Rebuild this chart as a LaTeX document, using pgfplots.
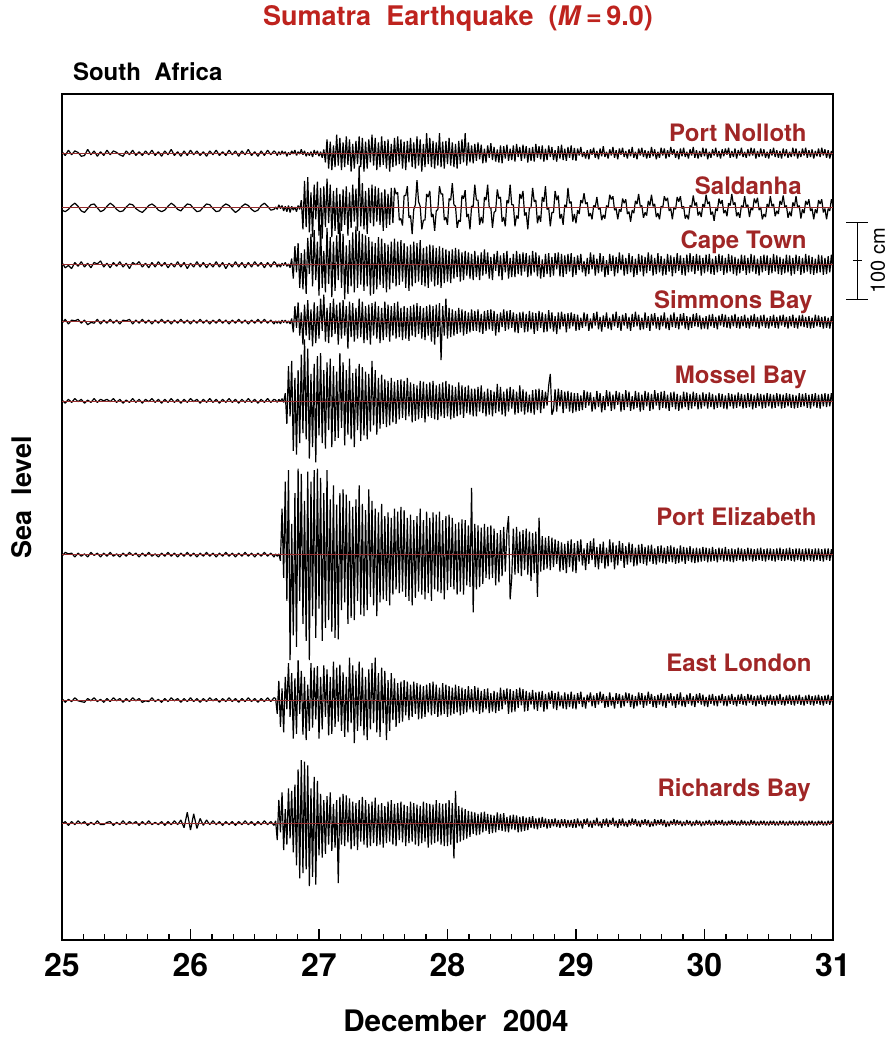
\documentclass[border=0pt]{standalone}
\usepackage{pgfplots}
\pgfplotsset{compat=1.18}
\usepackage{pgfplotstable}
\usepackage{fontspec}
\setmainfont{TeX Gyre Heros}

\definecolor{stationred}{RGB}{160,38,38}
\definecolor{titlered}{RGB}{190,35,30}
\definecolor{zeroline}{RGB}{150,45,45}

\tikzset{
  trace/.style={black, line width=0.6pt, line join=bevel},
  zero/.style={zeroline, line width=0.35pt},
  station/.style={anchor=east, inner sep=0pt, text=stationred, font=\fontsize{12}{12}\selectfont\bfseries},
}

% De-tided sea level (cm) at eight South African gauges, 25-31 Dec 2004
% (sampling refined once the tsunami arrives)
\pgfplotstableread{
t pn sa ct sb mb pe el rb
25.000 2 -3 3 -2 1 -2 2 -1
25.025 -3 -5 -4 3 -3 3 -3 2
25.050 4 -2 -1 -3 2 1 1 -3
25.075 -2 3 -5 2 -2 2 -2 2
25.100 3 6 3 1 3 -3 3 -2
25.125 1 2 -2 3 -1 2 -1 3
25.150 -4 -4 4 -2 2 -2 -2 -1
25.175 -3 -6 -3 2 -3 1 -3 2
25.200 5 -1 2 -4 1 -3 2 -3
25.225 -2 4 -4 -1 -2 3 -1 1
25.250 3 5 3 -2 3 -1 3 -2
25.275 -4 0 1 3 -2 2 -2 3
25.300 2 -5 5 -3 2 -3 1 -2
25.325 -3 -3 -3 2 0 2 -3 -2
25.350 4 2 2 -2 2 -2 2 1
25.375 -2 6 -4 3 -1 3 -2 2
25.400 3 3 3 -2 3 -2 3 -3
25.425 1 -2 -2 2 -2 1 -1 1
25.450 -2 -5 4 -3 2 -3 2 -2
25.475 -4 -4 -3 2 -3 2 -3 3
25.500 3 1 2 1 1 -2 2 -2
25.525 -2 5 -5 3 -2 3 -2 2
25.550 4 4 3 -3 3 -1 3 -1
25.575 -3 -1 0 2 -2 2 -1 2
25.600 2 -4 4 -2 2 -3 2 -3
25.625 -3 -6 -3 3 -3 2 -3 2
25.650 3 -2 2 -2 2 -2 -1 -2
25.675 -2 3 -4 2 -1 3 -2 3
25.700 4 5 3 -3 3 -2 3 -2
25.725 -3 2 -3 2 -2 1 -2 1
25.750 2 -3 4 -2 2 -3 1 -2
25.775 -4 -5 -2 3 -3 2 -3 2
25.800 3 -3 3 -2 2 -2 2 -3
25.825 -2 2 -4 2 -2 3 -2 2
25.850 5 6 2 -3 3 -2 3 -2
25.875 -3 3 -3 2 -2 2 -1 3
25.900 2 -2 4 -2 2 -3 2 -2
25.925 -4 -4 -3 3 -3 2 -3 4
25.950 3 1 3 -2 2 -2 2 -6
25.975 -3 5 -5 2 -2 3 -2 14
26.000 4 4 2 -3 3 -2 3 -9
26.025 -2 -1 -3 2 -1 2 -2 12
26.050 3 -5 4 -2 2 -3 2 -7
26.075 -3 -4 -3 3 -3 2 -3 6
26.100 2 1 3 -2 2 -2 2 -3
26.125 -4 5 -4 2 -2 3 -2 4
26.150 3 4 2 -3 3 -2 3 -2
26.175 -2 -1 -3 2 -2 2 -1 3
26.200 4 -5 4 -2 2 -3 2 -2
26.225 -3 -4 -3 3 -3 2 -3 2
26.250 2 2 3 -2 2 -2 2 -3
26.275 -3 5 -5 2 -2 3 -2 2
26.300 4 3 2 -3 3 -2 3 -2
26.325 -2 -2 -3 2 -2 2 -2 2
26.350 3 -6 4 -2 2 -3 2 -3
26.375 -4 -3 -3 3 -3 2 -3 2
26.400 3 2 3 -2 2 -2 2 -2
26.425 -2 5 -4 2 -2 3 -2 3
26.450 5 3 3 -3 3 -2 3 -2
26.475 -3 -2 -3 2 -2 2 -2 2
26.500 2 -5 4 -2 2 -3 2 -3
26.525 -4 -3 -2 3 -3 2 -3 2
26.550 3 3 3 -2 2 -2 2 -2
26.575 -3 6 -4 3 -2 3 -2 3
26.600 4 2 3 -2 3 -2 3 -2
26.625 -2 -3 -3 2 -2 2 -2 2
26.650 3 -2 4 -3 2 -3 3 -3
26.6625 1 1 2 1 1 1 2 3
26.6750 -3 -2 -3 -2 -2 -2 -18 -22
26.6875 2 4 1 1 2 1 25 30
26.7000 -2 -1 -3 -3 -1 -8 -35 -12
26.7125 3 3 2 2 3 60 15 40
26.7250 -1 -4 -1 -1 -2 -30 -42 -35
26.7375 2 2 3 2 10 95 30 18
26.7500 -4 -5 -2 -2 -30 -60 -12 -28
26.7625 1 3 1 1 45 110 48 45
26.7750 -2 -6 -4 -3 -20 -137 -22 -20
26.7875 3 2 8 4 52 40 35 42
26.8000 -1 -3 -18 -14 -65 -105 -50 -38
26.8125 4 1 24 20 30 80 28 50
26.8250 -3 -5 -10 -8 -70 -120 -44 -55
26.8375 2 3 28 25 40 112 52 70
26.8500 -1 -2 -30 -18 -55 -60 -18 -72
26.8625 5 10 15 12 60 105 38 82
26.8750 -2 -28 -32 -30 -42 -90 -45 -65
26.8875 3 35 20 22 80 70 30 80
26.9000 -4 -25 -38 -18 -50 -112 -52 -60
26.9125 1 40 35 28 68 108 20 75
26.9250 -3 -32 -12 -24 -75 -137 -40 -82
26.9375 2 20 40 16 35 95 48 45
26.9500 -5 -38 -28 -32 -60 -80 -36 -70
26.9625 4 30 45 25 48 110 42 60
26.9750 -2 -15 -20 -28 -80 -108 -25 -80
26.9875 3 34 30 20 58 112 44 55
27.0000 -4 -36 -40 -22 -45 -70 -50 -42
27.0125 2 26 52 30 62 100 30 38
27.0250 -6 -40 -30 -12 -55 -112 -38 -45
27.0375 5 28 18 35 40 80 45 30
27.0500 -12 -25 -36 -26 -62 -95 -22 -40
27.0625 18 38 48 18 50 110 40 35
27.0750 -20 -20 -25 -28 -38 -85 -46 -28
27.0875 15 30 36 24 55 72 30 40
27.1000 -22 -38 -42 -20 -60 -100 -44 -36
27.1125 10 22 30 30 45 90 50 25
27.1250 -18 -30 -34 -16 -52 -108 -35 -32
27.1375 24 26 38 22 38 65 42 30
27.1500 -16 -34 -20 -30 -48 -110 -28 -78
27.1625 20 18 55 25 62 80 46 34
27.1750 -22 -30 -30 -22 -35 -72 -40 -28
27.1875 14 24 40 28 50 85 36 38
27.2000 -18 -22 -45 -18 -58 -62 -48 -30
27.2125 22 28 25 20 40 78 30 36
27.2250 -15 -36 -38 -35 -44 -90 -42 -25
27.2375 18 20 32 26 55 70 55 32
27.2500 -24 -26 -28 -20 -50 -82 -30 -34
27.2625 12 30 42 24 36 62 45 28
27.2750 -20 -18 -36 -26 -60 -85 -56 -30
27.2875 16 25 50 18 42 72 38 26
27.3000 -14 -30 -30 -22 -38 -60 -40 -35
27.3125 22 55 44 30 48 90 50 30
27.3250 -18 -24 -26 -20 -52 -78 -34 -24
27.3375 20 32 40 26 44 66 42 34
27.3500 -24 -28 -34 -28 -45 -80 -46 -28
27.3625 15 22 38 20 38 58 30 30
27.3750 -20 -34 -28 -24 -50 -72 -52 -32
27.3875 18 26 36 22 35 85 40 25
27.4000 -12 -20 -40 -30 -40 -55 -38 -30
27.4125 24 30 30 24 52 70 48 28
27.4250 -16 -24 -38 -18 -32 -66 -30 -26
27.4375 20 28 28 26 40 60 55 33
27.4500 -22 -18 -32 -22 -44 -80 -42 -30
27.4625 14 26 36 20 30 55 35 24
27.4750 -18 -22 -26 -28 -36 -62 -48 -28
27.4875 22 20 34 18 34 66 42 26
27.5000 -15 -30 -30 -24 -30 -58 -30 -32
27.5125 16 24 28 26 28 50 38 22
27.5250 -20 -26 -36 -20 -34 -60 -52 -26
27.5375 18 18 26 22 26 55 26 28
27.5500 -24 -22 -32 -26 -32 -66 -40 -24
27.5625 12 26 30 20 30 48 35 30
27.5750 -18 -20 -24 -18 -28 -52 -26 -28
27.5875 20 26 34 24 25 60 28 25
27.6000 -16 18 -28 -22 -30 -45 -35 -30
27.6125 22 20 30 26 27 56 22 26
27.6250 -14 -16 -26 -20 -24 -50 -30 -22
27.6375 18 -14 32 18 28 62 24 28
27.6500 -20 -23 -22 -24 -22 -48 -28 -25
27.6625 15 16 28 20 26 58 26 24
27.6750 -22 16 -30 -22 -25 -55 -20 -30
27.6875 16 28 24 18 30 48 24 22
27.7000 -12 -13 -34 -25 -20 -60 -26 -26
27.7125 20 -10 26 20 24 52 20 28
27.7250 -18 -34 -28 -18 -28 -66 -22 -24
27.7375 14 -2 30 22 22 45 24 26
27.7500 -20 4 -24 -20 -26 -56 -18 -28
27.7625 22 36 28 24 20 50 22 24
27.7750 -16 8 -22 -16 -24 -48 -25 -30
27.7875 18 2 32 20 26 60 20 22
27.8000 -24 -28 -26 -22 -22 -52 -24 -26
27.8125 12 -16 22 18 25 45 18 28
27.8250 -18 -16 -28 -24 -28 -58 -22 -24
27.8375 26 18 24 20 22 56 20 26
27.8500 -14 14 -30 -18 -20 -50 -16 -32
27.8625 20 22 26 22 24 48 22 25
27.8750 -18 -12 -22 -26 -22 -60 -20 -28
27.8875 16 -8 25 20 26 55 24 24
27.9000 -20 -30 -28 -30 -24 -45 -18 -26
27.9125 14 -4 22 22 20 52 20 30
27.9250 -16 -2 -26 -20 -25 -48 -22 -24
27.9375 26 28 24 24 22 56 16 26
27.9500 -18 18 -30 -50 -20 -50 -20 -28
27.9625 15 18 22 20 24 45 22 25
27.9750 -20 -16 -24 -18 -22 -58 -18 -30
27.9875 16 -12 20 30 26 50 20 26
28.0000 -14 -22 -22 -22 -20 -46 -22 -30
28.0125 20 12 18 18 22 52 18 30
28.0250 -16 10 -24 -20 -24 -42 -20 -28
28.0375 14 32 20 16 20 48 16 26
28.0500 -18 4 -18 -18 -22 -45 -18 -46
28.0625 12 2 22 14 18 40 20 42
28.0750 -20 -26 -16 -16 -20 -52 -16 -26
28.0875 16 -16 20 18 24 42 18 22
28.1000 -14 -18 -22 -14 -18 -48 -20 -24
28.1125 18 16 16 16 20 46 16 20
28.1250 -12 12 -20 -18 -22 -52 -18 -22
28.1375 26 23 18 14 18 45 14 18
28.1500 -16 -12 -14 -16 -16 -40 -16 -20
28.1625 14 -8 16 12 20 38 18 16
28.1750 -12 -28 -18 -14 -18 -42 -12 -18
28.1875 10 2 14 16 16 87 14 15
28.2000 -13 2 -20 -12 -20 -75 -16 -14
28.2125 12 30 18 14 16 40 18 14
28.2250 -10 10 -16 -12 -20 -45 -14 -16
28.2375 14 10 12 16 18 38 16 12
28.2500 -8 -22 -20 -14 -14 -42 -18 -15
28.2625 11 -12 16 10 20 35 12 14
28.2750 -13 -20 -14 -16 -16 -38 -16 -12
28.2875 6 14 20 14 12 40 14 15
28.3000 -12 10 -12 -12 -20 -30 -12 -10
28.3125 10 30 16 15 16 36 15 12
28.3250 -6 0 -18 -10 -18 -32 -17 -14
28.3375 13 0 10 16 14 38 9 11
28.3500 -9 -26 -20 -12 -20 -30 -15 -13
28.3625 8 -6 14 14 12 34 12 10
28.3750 -11 -4 -8 -18 -16 -40 -17 -12
28.3875 5 24 18 10 22 28 10 14
28.4000 -12 12 -15 -14 -14 -36 -14 -9
28.4125 10 14 12 12 18 32 16 12
28.4250 -13 -18 -20 -7 -18 -28 -12 -10
28.4375 9 -12 15 16 12 36 13 13
28.4500 -7 -24 -10 -12 -20 -22 -6 -11
28.4625 11 10 18 14 16 30 15 8
28.4750 -10 6 -18 -10 -14 50 -18 -12
28.4875 6 30 9 15 18 -58 14 10
28.5000 -9 4 -16 -8 -10 -30 -16 -8
28.5125 10 4 14 12 15 34 12 11
28.5250 -11 -24 -16 -14 -18 -26 -15 -9
28.5375 12 -10 18 10 12 36 14 10
28.5500 -5 -14 -12 -15 -16 -24 -10 -12
28.5625 8 18 14 12 20 30 16 8
28.5750 -10 12 -14 -8 -14 -28 -7 -11
28.5875 11 22 16 13 15 32 14 9
28.6000 -7 -10 -9 -14 -18 -20 -15 -10
28.6125 9 -6 15 10 12 34 12 7
28.6250 -12 -28 -16 -13 -15 -26 -14 -9
28.6375 7 0 12 14 8 30 10 8
28.6500 -10 0 -14 -10 -16 -34 -6 -6
28.6625 8 26 18 12 14 28 13 9
28.6750 -11 8 -10 -16 -18 -24 -12 -7
28.6875 12 10 16 11 15 30 10 6
28.7000 -6 -20 -15 -12 -12 -55 -14 -8
28.7125 9 -10 12 14 16 48 11 7
28.7250 -8 -18 -18 -8 -16 -22 -9 -6
28.7375 10 14 7 12 14 24 12 8
28.7500 -11 8 -16 -14 -10 -20 -15 -5
28.7625 6 28 14 10 12 22 8 6
28.7750 -9 -2 -12 -13 -6 -18 -12 -7
28.7875 10 0 15 15 20 24 10 5
28.8000 -5 -24 -16 -9 35 -20 -5 -6
28.8125 8 -6 10 12 -18 22 12 5
28.8250 -9 -6 -14 -13 -12 -16 -11 -4
28.8375 4 22 15 7 15 20 9 6
28.8500 -11 10 -6 -16 -14 -12 -13 -5
28.8625 9 16 16 12 16 18 11 4
28.8750 -7 -14 -15 -10 -7 -22 -8 -6
28.8875 11 -8 14 13 14 16 6 5
28.9000 -9 -22 -16 -6 -16 -20 -11 -4
28.9125 6 4 12 10 12 14 10 5
28.9250 -10 0 -12 -14 -10 -24 -12 -6
28.9375 8 26 14 11 13 18 8 4
28.9500 -6 6 -9 -9 -14 -16 -9 -5
28.9625 10 8 15 12 11 20 11 4
28.9750 -9 -18 -16 -6 -16 -22 -11 -6
28.9875 7 -8 10 10 10 15 7 5
29.0000 -10 -20 -13 -12 -14 -24 -12 -6
29.0125 6 -3 12 9 10 18 9 6
29.0250 -3 -8 -7 -11 -13 -9 -5 -4
29.0375 8 10 14 5 7 20 11 3
29.0500 -5 6 -10 -8 -12 -14 -9 -7
29.0625 2 19 5 12 14 8 4 5
29.0750 -7 5 -15 -6 -9 -20 -11 -2
29.0875 4 7 9 10 12 15 7 6
29.1000 -8 -11 -12 -12 -6 -12 -3 -5
29.1125 5 -7 16 4 11 18 10 3
29.1250 -2 -15 -6 -9 -14 -7 -8 -6
29.1375 7 3 13 11 5 21 6 4
29.1500 -6 1 -14 -5 -11 -16 -10 -3
29.1625 3 14 8 13 13 10 9 7
29.1750 -8 -2 -11 -10 -8 -19 -6 -4
29.1875 6 0 15 6 10 14 11 2
29.2000 -4 -16 -9 -13 -15 -11 -4 -6
29.2125 9 -9 11 8 6 17 8 5
29.2250 -5 -14 -16 -7 -12 -18 -10 -3
29.2375 2 3 6 12 14 9 5 6
29.2500 -7 0 -13 -9 -7 -15 -9 -5
29.2625 5 17 14 5 12 20 10 4
29.2750 -3 11 -8 -11 -13 -10 -7 -2
29.2875 8 15 12 10 8 16 4 7
29.3000 -6 -3 -15 -6 -11 -19 -11 -4
29.3125 4 -1 10 13 13 12 9 3
29.3250 -8 -15 -11 -8 -5 -14 -5 -6
29.3375 6 -2 16 7 11 18 8 5
29.3500 -2 -5 -7 -12 -14 -8 -10 -3
29.3625 7 12 13 9 9 15 6 6
29.3750 -5 6 -14 -5 -12 -17 -8 -4
29.3875 3 11 9 11 14 11 10 2
29.4000 -7 -8 -12 -9 -8 -13 -4 -5
29.4125 5 -5 15 6 12 16 9 4
29.4250 -4 -18 -10 -12 -13 -10 -9 -3
29.4375 8 -3 11 10 6 14 7 6
29.4500 -6 -7 -16 -7 -11 -15 -11 -2
29.4625 2 9 8 13 13 9 5 5
29.4750 -8 5 -13 -6 -9 -14 -8 -4
29.4875 6 18 14 9 11 13 10 3
29.5000 -3 2 -9 -11 -14 -11 -6 -5
29.5125 7 3 12 5 8 14 9 4
29.5250 -5 -13 -15 -10 -12 -12 -10 -2
29.5375 4 -6 10 12 13 10 6 5
29.5500 -7 -10 -11 -8 -7 -14 -7 -3
29.5625 3 9 16 7 11 12 11 4
29.5750 -6 3 -8 -12 -13 -9 -5 -5
29.5875 8 17 13 10 9 13 8 2
29.6000 -4 2 -14 -5 -11 -12 -9 -4
29.6125 5 5 9 11 14 8 5 5
29.6250 -8 -12 -12 -9 -6 -13 -10 -3
29.6375 2 -7 15 6 10 11 7 4
29.6500 -6 -15 -10 -11 -12 -10 -6 -2
29.6625 7 2 11 8 12 12 9 5
29.6750 -3 0 -14 -6 -9 -11 -8 -3
29.6875 6 15 8 12 13 9 6 4
29.7000 -7 9 -13 -9 -10 -12 -10 -5
29.7125 4 13 14 5 8 11 8 2
29.7250 -5 -4 -9 -11 -13 -9 -4 -4
29.7375 8 -1 12 9 11 12 9 3
29.7500 -2 -15 -15 -7 -8 -10 -7 -2
29.7625 5 1 10 12 12 10 5 5
29.7750 -6 -2 -11 -8 -11 -12 -10 -3
29.7875 3 14 15 6 9 8 8 4
29.8000 -8 8 -8 -10 -13 -11 -6 -2
29.8125 6 15 12 10 7 12 10 3
29.8250 -4 -1 -13 -5 -10 -9 -8 -4
29.8375 7 2 9 11 12 10 4 2
29.8500 -5 -14 -14 -9 -8 -12 -9 -3
29.8625 2 -9 13 7 11 9 7 4
29.8750 -7 -15 -10 -11 -12 -8 -5 -2
29.8875 5 3 15 6 9 11 9 3
29.9000 -3 1 -9 -8 -10 -10 -7 -4
29.9125 8 16 11 10 12 8 5 2
29.9250 -6 3 -12 -6 -7 -11 -9 -3
29.9375 4 7 14 11 10 9 8 4
29.9500 -7 -10 -8 -7 -11 -10 -4 -2
29.9625 3 -5 12 8 8 8 9 3
29.9750 -5 -12 -14 -10 -10 -9 -6 -4
29.9875 7 5 9 5 11 10 7 2
30.0000 -4 1 -11 -9 -7 -8 -8 -3
30.0125 6 17 13 7 9 9 4 3
30.0250 -8 5 -9 -10 -10 -10 -9 -2
30.0375 2 8 14 9 11 8 7 4
30.0500 -6 -9 -12 -6 -8 -9 -5 -3
30.0625 5 -5 8 10 9 10 8 2
30.0750 -3 -17 -13 -8 -11 -8 -7 -3
30.0875 7 -1 11 6 7 7 5 4
30.1000 -5 -4 -10 -10 -9 -10 -8 -2
30.1125 3 12 14 8 10 9 6 3
30.1250 -7 5 -8 -5 -8 -7 -4 -2
30.1375 5 10 12 10 9 8 8 4
30.1500 -4 -7 -13 -7 -10 -9 -7 -3
30.1625 6 -3 9 9 7 10 5 2
30.1750 -2 -11 -11 -8 -11 -8 -8 -3
30.1875 7 6 14 6 10 7 6 3
30.2000 -6 3 -9 -9 -7 -9 -5 -2
30.2125 3 18 12 8 9 8 8 4
30.2250 -5 4 -12 -6 -10 -10 -6 -2
30.2375 6 7 10 10 8 7 4 3
30.2500 -7 -11 -14 -8 -9 -8 -8 -3
30.2625 4 -6 8 6 11 9 7 2
30.2750 -3 -13 -11 -9 -7 -7 -5 -3
30.2875 7 3 13 7 9 8 8 4
30.3000 -5 0 -8 -6 -10 -9 -6 -2
30.3125 2 15 12 9 8 7 5 3
30.3250 -6 1 -13 -8 -9 -8 -7 -3
30.3375 5 4 9 5 10 9 8 2
30.3500 -4 -12 -11 -9 -8 -7 -4 -3
30.3625 7 0 14 8 9 8 7 4
30.3750 -3 -3 -9 -6 -11 -9 -6 -2
30.3875 6 12 12 10 7 7 5 3
30.4000 -7 6 -12 -7 -9 -8 -8 -3
30.4125 3 13 8 6 10 8 6 2
30.4250 -5 -3 -14 -9 -7 -7 -5 -3
30.4375 6 1 11 8 9 9 7 3
30.4500 -4 -15 -10 -6 -10 -8 -6 -2
30.4625 5 -8 13 9 8 7 4 3
30.4750 -6 -12 -8 -8 -9 -9 -8 -3
30.4875 2 5 12 5 10 8 6 2
30.5000 -7 1 -13 -9 -7 -7 -5 -3
30.5125 5 15 9 7 9 8 7 3
30.5250 -3 2 -11 -6 -10 -8 -6 -2
30.5375 7 5 14 9 8 7 5 3
30.5500 -5 -11 -9 -8 -9 -9 -7 -3
30.5625 4 -4 12 6 10 8 6 2
30.5750 -6 -8 -12 -9 -7 -7 -5 -3
30.5875 3 9 10 8 9 9 8 3
30.6000 -7 4 -13 -5 -10 -8 -6 -2
30.6125 6 16 8 9 8 7 4 3
30.6250 -4 1 -11 -7 -9 -8 -7 -3
30.6375 5 3 13 6 10 8 6 2
30.6500 -6 -13 -10 -9 -7 -7 -5 -3
30.6625 2 -5 12 7 9 9 7 3
30.6750 -5 -11 -14 -6 -9 -8 -6 -2
30.6875 7 7 9 9 8 7 5 3
30.7000 -4 2 -12 -8 -10 -9 -7 -3
30.7125 6 15 13 5 7 8 6 2
30.7250 -7 0 -8 -9 -9 -7 -5 -3
30.7375 3 3 11 8 10 8 7 3
30.7500 -5 -14 -13 -6 -8 -8 -6 -2
30.7625 6 -2 9 9 9 7 4 3
30.7750 -3 -7 -11 -7 -7 -9 -7 -3
30.7875 7 9 14 6 10 8 6 2
30.8000 -6 4 -9 -8 -9 -7 -5 -3
30.8125 4 11 12 7 8 8 7 3
30.8250 -5 -4 -12 -9 -10 -8 -6 -2
30.8375 5 -1 10 5 9 7 5 3
30.8500 -7 -15 -13 -8 -7 -9 -7 -3
30.8625 3 -2 8 9 10 8 6 2
30.8750 -4 -7 -11 -6 -9 -7 -5 -3
30.8875 6 10 13 8 8 8 7 3
30.9000 -5 5 -10 -7 -10 -8 -6 -2
30.9125 7 11 12 6 9 7 5 3
30.9250 -3 -6 -13 -9 -7 -9 -7 -3
30.9375 5 -1 9 7 10 8 6 2
30.9500 -6 -15 -12 -8 -8 -7 -5 -3
30.9625 4 -1 11 5 9 8 7 3
30.9750 -7 -4 -10 -9 -7 -8 -6 -2
30.9875 3 11 13 7 10 7 5 3
31.0000 -5 4 -9 -6 -8 -8 -7 -3
}\gauges

\begin{document}
\begin{tikzpicture}
\path[use as bounding box] (0,0) rectangle (445pt,519.5pt);
\begin{axis}[
  at={(31pt,49.5pt)}, anchor=south west,
  width=385.5pt, height=423pt, scale only axis,
  xmin=25, xmax=31, ymin=0, ymax=1100,
  xtick={25,26,27,28,29,30,31}, minor x tick num=5,
  ytick=\empty,
  xtick pos=left, tick align=inside,
  major tick length=5.5pt, minor tick length=3pt,
  axis line style={line width=1pt},
  every tick/.style={black, line width=0.6pt},
  /pgf/number format/assume math mode=true,
  xticklabel style={font=\fontsize{16}{16}\selectfont\bfseries, yshift=-3pt},
  clip=false,
]
\addplot[trace] table[x=t, y expr=\thisrow{pn}+1023] {\gauges};
\addplot[trace] table[x=t, y expr=\thisrow{sa}+952] {\gauges};
\addplot[trace] table[x=t, y expr=\thisrow{ct}+878] {\gauges};
\addplot[trace] table[x=t, y expr=\thisrow{sb}+804] {\gauges};
\addplot[trace] table[x=t, y expr=\thisrow{mb}+701] {\gauges};
\addplot[trace] table[x=t, y expr=\thisrow{pe}+501] {\gauges};
\addplot[trace] table[x=t, y expr=\thisrow{el}+312] {\gauges};
\addplot[trace] table[x=t, y expr=\thisrow{rb}+152] {\gauges};

% zero lines of each record
\addplot[zero] coordinates {(25,1023) (31,1023)};
\addplot[zero] coordinates {(25,952) (31,952)};
\addplot[zero] coordinates {(25,878) (31,878)};
\addplot[zero] coordinates {(25,804) (31,804)};
\addplot[zero] coordinates {(25,701) (31,701)};
\addplot[zero] coordinates {(25,501) (31,501)};
\addplot[zero] coordinates {(25,312) (31,312)};
\addplot[zero] coordinates {(25,152) (31,152)};

% station names
\node[station] at (axis cs:30.798,1050) {Port Nolloth};
\node[station] at (axis cs:30.759,981) {Saldanha};
\node[station] at (axis cs:30.798,907) {Cape Town};
\node[station] at (axis cs:30.844,829) {Simmons Bay};
\node[station] at (axis cs:30.798,732) {Mossel Bay};
\node[station] at (axis cs:30.875,550) {Port Elizabeth};
\node[station] at (axis cs:30.837,360) {East London};
\node[station] at (axis cs:30.829,195) {Richards Bay};

% 100 cm scale bar
\draw[line width=0.6pt] (axis cs:31.19,833) -- (axis cs:31.19,933);
\draw[line width=0.6pt] (axis cs:31.105,933) -- (axis cs:31.275,933);
\draw[line width=0.6pt] (axis cs:31.105,833) -- (axis cs:31.275,833);
\draw[line width=0.6pt] (axis cs:31.155,883) -- (axis cs:31.225,883);
\node[rotate=90, font=\fontsize{10}{10}\selectfont] at (axis cs:31.35,883) {100 cm};
\end{axis}

\node[text=titlered, font=\fontsize{13.5}{13.5}\selectfont\bfseries] at (229pt,510.5pt)
  {Sumatra\ \ Earthquake\ \ (\textit{M}\,=\,9.0)};
\node[anchor=west, font=\fontsize{12}{12}\selectfont\bfseries] at (33pt,483.5pt) {South\ \ Africa};
\node[rotate=90, font=\fontsize{13.5}{13.5}\selectfont\bfseries] at (11pt,271pt) {Sea\ \ level};
\node[inner sep=0pt, font=\fontsize{14.8}{14.8}\selectfont\bfseries] at (228pt,9pt) {December\ \ 2004};
\end{tikzpicture}
\end{document}
